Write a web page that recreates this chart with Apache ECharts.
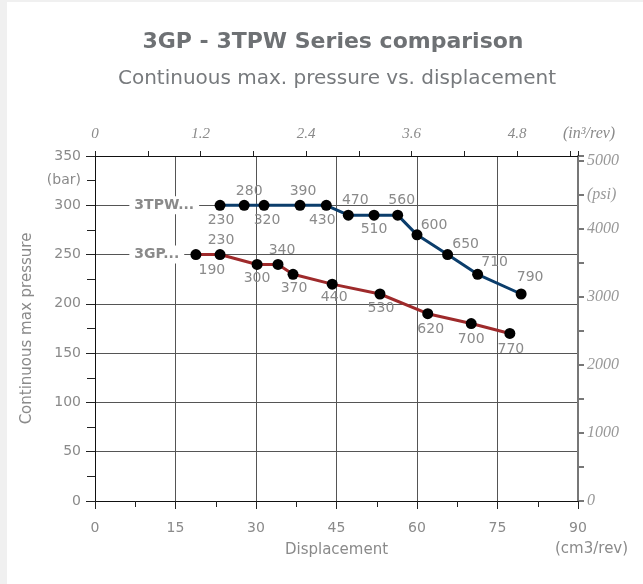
<!DOCTYPE html>
<html>
<head>
<meta charset="utf-8">
<script src="https://cdn.jsdelivr.net/npm/echarts@6/dist/echarts.min.js"></script>
<style>
  html, body { margin: 0; padding: 0; background: #f0f0f0; }
  #main { position: absolute; left: 7px; top: 2px; width: 636px; height: 582px; background: #fff; }
</style>
</head>
<body>
<div id="main"></div>
<script>
// 3GP series: displacement (cm3/rev), pressure (bar), model label
var gpDisplacement = [18.8, 23.3, 30.2, 34.1, 36.9, 44.2, 53.1, 62.0, 70.1, 77.3];
var gpPressure = [250, 250, 240, 240, 230, 220, 210, 190, 180, 170];
var gpModels = ['190', '230', '300', '340', '370', '440', '530', '620', '700', '770'];

// 3TPW series
var tpwDisplacement = [23.3, 27.8, 31.5, 38.2, 43.1, 47.2, 52.0, 56.4, 60.0, 65.7, 71.3, 79.4];
var tpwPressure = [300, 300, 300, 300, 300, 290, 290, 290, 270, 250, 230, 210];
var tpwModels = ['230', '280', '320', '390', '430', '470', '510', '560', '600', '650', '710', '790'];

// label placement
var gpLabelPos = ['bottom', 'top', 'bottom', 'top', 'bottom', 'bottom', 'bottom', 'bottom', 'bottom', 'bottom'];
var gpLabelOffset = [[16, 1], [1, 0], [0, -1], [4, 0], [1, 0], [2, -1], [1, 0], [3, 1], [0, 1], [1, 1]];
var tpwLabelPos = ['bottom', 'top', 'bottom', 'top', 'bottom', 'top', 'bottom', 'top', 'top', 'top', 'top', 'top'];
var tpwLabelOffset = [[1, 1], [5, 1], [3, 1], [3, 1], [-4, 1], [7, 0], [0, 0], [4, 0], [17, 5], [18, 4.5], [17, 3], [9, -2.5]];

var CM3_PER_IN3 = 16.387;
var PSI_PER_BAR = 14.5038;
var nameLabelX = 6.4;

var grey = '#8a8a8a';
var sans = 'DejaVu Sans';
var serif = 'Liberation Serif';

function buildData(xs, ys, names, pos, off) {
    return xs.map(function (x, i) {
        return {
            value: [x, ys[i]],
            name: names[i],
            label: { position: pos[i], offset: off[i] }
        };
    });
}

function lineSeries(name, color, xs, ys, names, pos, off) {
    return {
        name: name,
        type: 'line',
        data: buildData(xs, ys, names, pos, off),
        symbol: 'circle',
        symbolSize: 11,
        itemStyle: { color: '#000' },
        lineStyle: { color: color, width: 3 },
        label: {
            show: true,
            distance: 2,
            formatter: function (p) { return p.name; },
            color: grey,
            fontFamily: sans,
            fontSize: 14
        },
        markPoint: {
            symbol: 'circle',
            symbolSize: 0,
            data: [{ coord: [nameLabelX, ys[0]] }],
            label: {
                show: true,
                position: 'right',
                distance: 0,
                formatter: name + '...',
                color: grey,
                fontFamily: sans,
                fontWeight: 'bold',
                fontSize: 14,
                backgroundColor: '#fff',
                padding: [2, 5]
            }
        }
    };
}

var myChart = echarts.init(document.getElementById('main'));

var option = {
    animation: false,
    title: [{
        text: '3GP - 3TPW Series comparison',
        left: 321,
        textAlign: 'center',
        top: 24,
        textStyle: { color: '#6e7174', fontFamily: sans, fontWeight: 'bold', fontSize: 22 }
    }, {
        text: 'Continuous max. pressure vs. displacement',
        left: 325,
        textAlign: 'center',
        top: 62,
        textStyle: { color: '#777a7d', fontFamily: sans, fontWeight: 'normal', fontSize: 20 }
    }],
    grid: { left: 88, top: 154, width: 483, height: 345 },
    xAxis: [{
        type: 'value',
        position: 'bottom',
        min: 0,
        max: 90,
        interval: 15,
        name: 'Displacement',
        nameLocation: 'middle',
        nameGap: 42,
        nameTextStyle: { color: grey, fontFamily: sans, fontSize: 15 },
        axisLine: { onZero: false, lineStyle: { color: '#111', width: 1 } },
        axisTick: { length: 8, lineStyle: { color: '#222' } },
        minorTick: { show: true, splitNumber: 2, length: 6, lineStyle: { color: '#222' } },
        axisLabel: { margin: 20, color: grey, fontFamily: sans, fontSize: 14 },
        splitLine: { show: true, lineStyle: { color: '#555', width: 1 } }
    }, {
        type: 'value',
        position: 'top',
        min: 0,
        max: 90 / CM3_PER_IN3,
        interval: 0.6,
        axisLine: { onZero: false, lineStyle: { color: '#111', width: 1 } },
        axisTick: { length: 5, lineStyle: { color: '#222' } },
        axisLabel: {
            margin: 14,
            color: grey,
            fontFamily: serif,
            fontStyle: 'italic',
            fontSize: 15,
            formatter: function (v) {
                var k = v / 1.2;
                return Math.abs(k - Math.round(k)) < 1e-6 ? String(+v.toFixed(1)) : '';
            }
        },
        splitLine: { show: false }
    }],
    yAxis: [{
        type: 'value',
        position: 'left',
        min: 0,
        max: 350,
        interval: 50,
        name: 'Continuous max pressure',
        nameLocation: 'middle',
        nameGap: 60,
        nameTextStyle: { color: grey, fontFamily: sans, fontSize: 15 },
        axisLine: { show: true, onZero: false, lineStyle: { color: '#111', width: 1 } },
        axisTick: { show: true, length: 9, lineStyle: { color: '#222' } },
        minorTick: { show: true, splitNumber: 2, length: 8, lineStyle: { color: '#222' } },
        axisLabel: { margin: 14, color: grey, fontFamily: sans, fontSize: 14 },
        splitLine: { show: true, lineStyle: { color: '#555', width: 1 } }
    }, {
        type: 'value',
        position: 'right',
        min: 0,
        max: 350 * PSI_PER_BAR,
        interval: 500,
        axisLine: { show: true, onZero: false, lineStyle: { color: '#777', width: 2 } },
        axisTick: { show: true, length: 6, lineStyle: { color: '#777', width: 2 } },
        axisLabel: {
            margin: 9,
            color: '#999',
            fontFamily: serif,
            fontStyle: 'italic',
            fontSize: 16,
            formatter: function (v) {
                if (v % 1000 === 0) return v;
                if (v === 4500) return '(psi)';
                return '';
            }
        },
        splitLine: { show: false }
    }, {
        // unit label "(bar)" between 300 and 350
        type: 'value',
        position: 'left',
        min: 0,
        max: 350,
        interval: 25,
        axisLine: { show: false, onZero: false },
        axisTick: { show: false },
        splitLine: { show: false },
        axisLabel: {
            margin: 14,
            color: grey,
            fontFamily: sans,
            fontSize: 14,
            formatter: function (v) { return v === 325 ? '(bar)' : ''; }
        }
    }],
    graphic: [{
        type: 'text',
        left: 548,
        top: 540,
        style: { text: '(cm3/rev)', fill: grey, font: '15px "DejaVu Sans"' }
    }, {
        type: 'text',
        left: 556,
        top: 124,
        style: { text: '(in³/rev)', fill: grey, font: 'italic 16px "Liberation Serif"' }
    }],
    series: [
        lineSeries('3TPW', '#0b3d6b', tpwDisplacement, tpwPressure, tpwModels, tpwLabelPos, tpwLabelOffset),
        lineSeries('3GP', '#9e2a2b', gpDisplacement, gpPressure, gpModels, gpLabelPos, gpLabelOffset)
    ]
};

myChart.setOption(option);
</script>
</body>
</html>
